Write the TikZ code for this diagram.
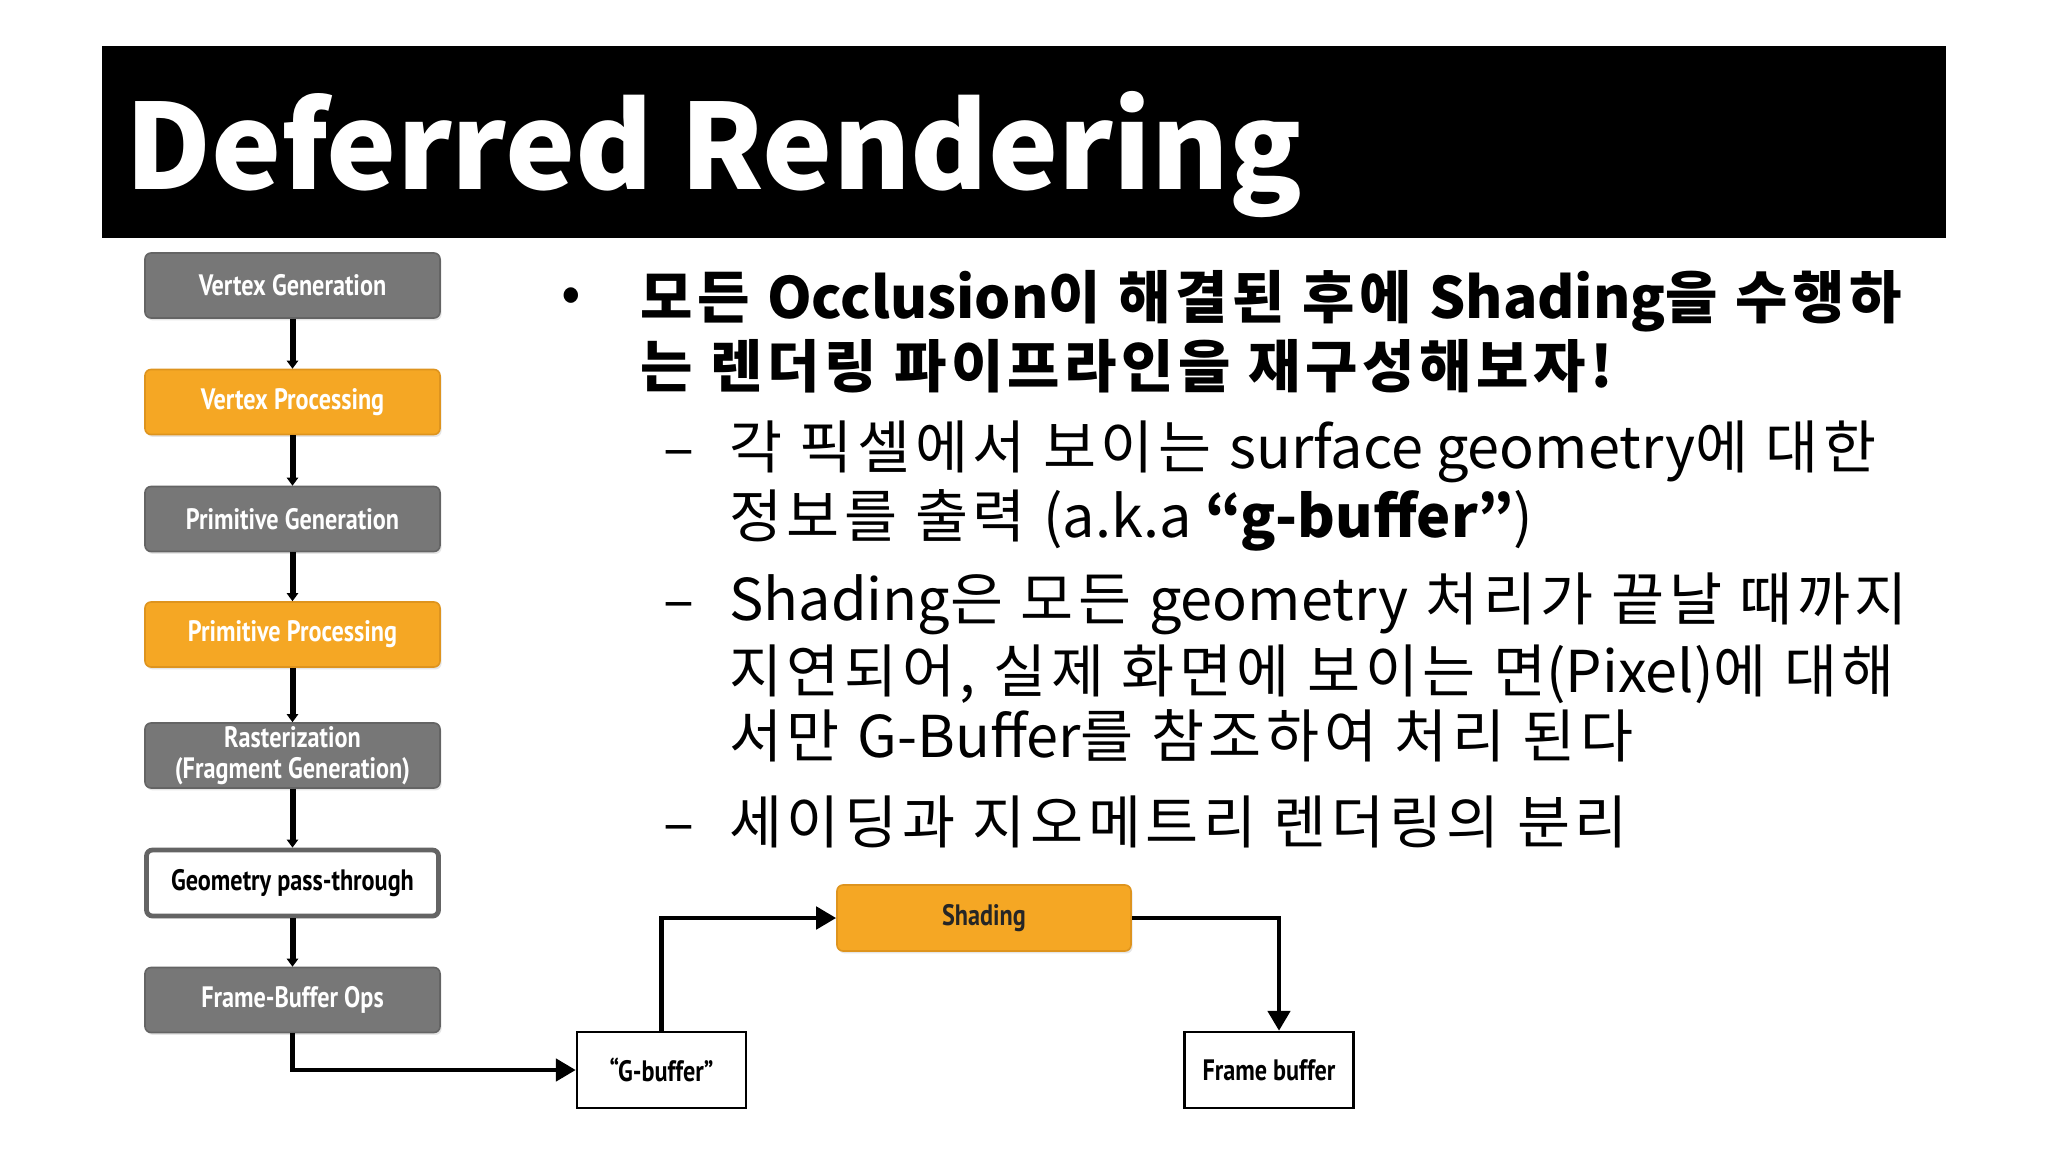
\documentclass[tikz,border=0pt]{standalone}
\usepackage{fontspec}
\setmainfont{Noto Sans CJK KR}
\newfontfamily\krfont[LetterSpace=8]{Noto Sans CJK KR}
\newfontfamily\latinfont{Noto Sans CJK KR}
\newfontfamily\titlefont{Noto Sans CJK KR}
\newfontfamily\boxfont[FakeStretch=0.82]{PT Sans}
\newcommand{\latword}[1]{{\latinfont #1}}
\usetikzlibrary{positioning,arrows.meta,shadows}

\definecolor{stagegray}{RGB}{119,119,119}
\definecolor{stagegrayline}{RGB}{100,100,100}
\definecolor{stageorange}{RGB}{245,167,36}
\definecolor{stageorangeline}{RGB}{222,148,30}

\tikzset{
	stage/.style={rounded corners=1.5mm, minimum width=73.75mm, minimum height=16.25mm,
		inner sep=0pt, align=center, line width=0.4mm,
		font=\boxfont\bfseries\fontsize{21}{22}\selectfont,
		drop shadow={shadow xshift=0.4mm, shadow yshift=-0.6mm, opacity=0.2}},
	graystage/.style={stage, fill=stagegray, draw=stagegrayline, text=white},
	orangestage/.style={stage, fill=stageorange, draw=stageorangeline, text=white},
	passstage/.style={stage, fill=white, draw=stagegrayline, line width=1.2mm, text=black,
		minimum width=73mm, minimum height=16.5mm},
	bufbox/.style={draw=black, line width=0.6mm, fill=white, minimum width=42.25mm,
		minimum height=19mm, inner sep=0pt, font=\boxfont\bfseries\fontsize{21}{22}\selectfont},
	flow/.style={line width=1.5mm, -{Triangle[width=2.8mm,length=2mm]}},
	bigflow/.style={line width=1.2mm, -{Triangle[width=5.5mm,length=5mm]}},
	bodytext/.style={anchor=base west, inner sep=0pt, font=\krfont\fontsize{41}{44}\selectfont},
	boldtext/.style={bodytext, font=\krfont\bfseries\fontsize{40.5}{44}\selectfont},
}

\begin{document}
\begin{tikzpicture}[x=0.25mm, y=-0.25mm]
	\useasboundingbox (0,0) rectangle (2048,1152);

	% Title:
	\fill[black] (102,46) rectangle (1946,238);
	\node[anchor=base west, inner sep=0pt, text=white,
		font=\titlefont\bfseries\fontsize{84}{90}\selectfont] (title) at (125,189) {Deferred Rendering};

	% Pipeline stages:
	\node[graystage] (vgen) at (292.5,285.5) {Vertex Generation};
	\node[orangestage] (vproc) at (292.5,402) {Vertex Processing};
	\node[graystage] (pgen) at (292.5,519) {Primitive Generation};
	\node[orangestage] (pproc) at (292.5,634.5) {Primitive Processing};
	\node[graystage] (rast) at (292.5,755.5) {Rasterization\\(Fragment Generation)};
	\node[passstage] (geo) at (292.5,883) {Geometry pass-through};
	\node[graystage] (fbops) at (292.5,1000) {Frame-Buffer Ops};

	\node[bufbox] (gbuf) at (661.5,1070) {“G-buffer”};
	\node[orangestage, text=black!85, minimum width=73.5mm, minimum height=16.5mm] (shade) at (984,918) {Shading};
	\node[bufbox] (fb) at (1269,1070) {Frame buffer};

	% Lines:
	\draw[flow] (vgen) -- (vproc);
	\draw[flow] (vproc) -- (pgen);
	\draw[flow] (pgen) -- (pproc);
	\draw[flow] (pproc) -- (rast);
	\draw[flow] (rast) -- (geo);
	\draw[flow] (geo) -- (fbops);
	\draw[bigflow] (fbops.south) |- (gbuf.west);
	\draw[bigflow] (gbuf.north) |- (shade.west);
	\draw[bigflow] (shade.east) -| ([xshift=2.5mm]fb.north);

	% Text:
	\node[bodytext, anchor=center] (bul) at (571,300) {•};
	\node[boldtext] (ln1) at (640,318) {모든 \latword{Occlusion}이 해결된 후에 \latword{Shading}을 수행하};
	\node[boldtext] (ln2) at (640,387) {는 렌더링 파이프라인을 재구성해보자!};

	\node[bodytext] (dsh1) at (663,468) {–};
	\node[bodytext] (sub1a) at (729,468) {각 픽셀에서 보이는 \latword{surface geometry}에 대한};
	\node[bodytext] (sub1b) at (729,537) {정보를 출력 \latword{(a.k.a \textbf{“g-buffer”})}};

	\node[bodytext] (dsh2) at (663,620) {–};
	\node[bodytext] (sub2a) at (729,620) {\latword{Shading}은 모든 \latword{geometry} 처리가 끝날 때까지};
	\node[bodytext] (sub2b) at (729,692) {지연되어, 실제 화면에 보이는 면\latword{(Pixel)}에 대해};
	\node[bodytext] (sub2c) at (729,757) {서만 \latword{G-Buffer}를 참조하여 처리 된다};

	\node[bodytext] (dsh3) at (663,843) {–};
	\node[bodytext] (sub3) at (729,843) {세이딩과 지오메트리 렌더링의 분리};

\end{tikzpicture}
\end{document}
